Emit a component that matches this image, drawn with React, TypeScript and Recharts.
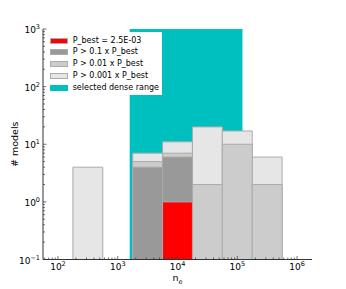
import React from "react";
import { ComposedChart, XAxis, YAxis, ReferenceArea, Label, Scatter } from "recharts";

// histogram bin edges (n_e) and counts per probability threshold
const binLo = [178, 562, 1778, 5623, 17783, 56234, 177828];
const binHi = [562, 1778, 5623, 17783, 56234, 177828, 562341];
const binMid = [316, 1000, 3162, 10000, 31623, 100000, 316228];
const countP001 = [4, 0, 7, 11, 20, 17, 6];
const countP01 = [0, 0, 5, 7, 2, 10, 2];
const countP1 = [0, 0, 4, 6, 0, 0, 0];
const countBest = [0, 0, 0, 1, 0, 0, 0];

// selected dense range
const denseLo = 1585;
const denseHi = 122000;

const xMajor = [100, 1000, 10000, 100000, 1000000];
const yMajor = [0.1, 1, 10, 100, 1000];
const xDomain = [56.2, 1778279];
const yDomain = [0.1, 1000];

const legendItems = [
  { label: "P_best = 2.5E-03", color: "#ff0000" },
  { label: "P > 0.1 x P_best", color: "#999999" },
  { label: "P > 0.01 x P_best", color: "#cccccc" },
  { label: "P > 0.001 x P_best", color: "#e6e6e6" },
  { label: "selected dense range", color: "#00bfbf" },
];

const FONT = "DejaVu Sans, sans-serif";
const EDGE = "#ababab";

// anchor points so every axis has a series attached
const anchors = binMid.map((x, i) => ({ x, y: Math.max(countP001[i], 0.2) }));

function withMinors(lo: number, hi: number) {
  const out: number[] = [];
  for (let e = -2; e <= 7; e++) {
    for (let m = 1; m <= 9; m++) {
      const v = m * Math.pow(10, e);
      if (v >= lo * 0.9999 && v <= hi * 1.0001) out.push(v);
    }
  }
  return out;
}

const xTicks = withMinors(xDomain[0], xDomain[1]);
const yTicks = withMinors(yDomain[0], yDomain[1]);

const isMajor = (v: number, majors: number[]) =>
  majors.some((m) => Math.abs(v - m) < m * 1e-6);

const Pow = ({ v }: { v: number }) => {
  const e = Math.round(Math.log10(v));
  return (
    <>
      10
      <tspan dy={-4} fontSize={6.5}>
        {e < 0 ? "\u2212" + Math.abs(e) : e}
      </tspan>
    </>
  );
};

const BottomTick = (props: any) => {
  const { x, y, payload } = props;
  const major = isMajor(payload.value, xMajor);
  return (
    <g>
      <line x1={x} x2={x} y1={y} y2={y - (major ? 3.5 : 2)} stroke="#333" strokeWidth={0.7} />
      {major && (
        <text x={x} y={y + 10.5} textAnchor="middle" fontSize={9} fontFamily={FONT} fill="#000">
          <Pow v={payload.value} />
        </text>
      )}
    </g>
  );
};

const TopTick = (props: any) => {
  const { x, y, payload } = props;
  const major = isMajor(payload.value, xMajor);
  return <line x1={x} x2={x} y1={y} y2={y + (major ? 3.5 : 2)} stroke="#333" strokeWidth={0.7} />;
};

const LeftTick = (props: any) => {
  const { x, y, payload } = props;
  const major = isMajor(payload.value, yMajor);
  return (
    <g>
      <line x1={x} x2={x + (major ? 3.5 : 2)} y1={y} y2={y} stroke="#333" strokeWidth={0.7} />
      {major && (
        <text x={x - 3} y={y + 4} textAnchor="end" fontSize={9} fontFamily={FONT} fill="#000">
          <Pow v={payload.value} />
        </text>
      )}
    </g>
  );
};

const RightTick = (props: any) => {
  const { x, y, payload } = props;
  const major = isMajor(payload.value, yMajor);
  return <line x1={x} x2={x - (major ? 3.5 : 2)} y1={y} y2={y} stroke="#333" strokeWidth={0.7} />;
};

const NoDot = () => <g />;

function bars(counts: number[], color: string, prefix: string) {
  return counts.map((c, i) =>
    c > 0 ? (
      <ReferenceArea
        key={`${prefix}-${i}`}
        xAxisId="bottom"
        yAxisId="left"
        x1={binLo[i]}
        x2={binHi[i]}
        y1={yDomain[0]}
        y2={c}
        fill={color}
        fillOpacity={1}
        stroke={EDGE}
        strokeWidth={1}
        ifOverflow="visible"
      />
    ) : null
  );
}

export default function App() {
  return (
    <div style={{ position: "absolute", left: 0, top: 0, width: 346, height: 289 }}>
      <ComposedChart width={346} height={289} margin={{ top: 29, right: 34, bottom: 0, left: 10 }}>
        <XAxis
          xAxisId="bottom"
          dataKey="x"
          type="number"
          scale="log"
          domain={xDomain}
          allowDataOverflow
          ticks={xTicks}
          interval={0}
          tickSize={0}
          tickMargin={0}
          height={29.5}
          tick={<BottomTick />}
          axisLine={{ stroke: "#333", strokeWidth: 1 }}
          tickLine={false}
        >
          <Label
            content={(p: any) => (
              <text
                x={p.viewBox.x + p.viewBox.width / 2}
                y={p.viewBox.y + 21.5}
                textAnchor="middle"
                fontSize={9.5}
                fontFamily={FONT}
              >
                n
                <tspan dy={2.5} fontSize={6.5}>
                  e
                </tspan>
              </text>
            )}
          />
        </XAxis>
        <XAxis
          xAxisId="top"
          dataKey="x"
          orientation="top"
          type="number"
          scale="log"
          domain={xDomain}
          allowDataOverflow
          ticks={xTicks}
          interval={0}
          tickSize={0}
          tickMargin={0}
          height={0}
          tick={<TopTick />}
          axisLine={{ stroke: "#333", strokeWidth: 1 }}
          tickLine={false}
        />
        <YAxis
          yAxisId="left"
          dataKey="y"
          type="number"
          scale="log"
          domain={yDomain}
          allowDataOverflow
          ticks={yTicks}
          interval={0}
          tickSize={0}
          tickMargin={0}
          width={33}
          tick={<LeftTick />}
          axisLine={{ stroke: "#333", strokeWidth: 1 }}
          tickLine={false}
        >
          <Label
            content={(p: any) => {
              const cx = p.viewBox.x + 4.5;
              const cy = p.viewBox.y + p.viewBox.height / 2;
              return (
                <text
                  x={cx}
                  y={cy}
                  transform={`rotate(-90 ${cx} ${cy})`}
                  textAnchor="middle"
                  dominantBaseline="central"
                  fontSize={9.5}
                  fontFamily={FONT}
                >
                  # models
                </text>
              );
            }}
          />
        </YAxis>
        <YAxis
          yAxisId="right"
          dataKey="y"
          orientation="right"
          type="number"
          scale="log"
          domain={yDomain}
          allowDataOverflow
          ticks={yTicks}
          interval={0}
          tickSize={0}
          tickMargin={0}
          width={0}
          tick={<RightTick />}
          axisLine={{ stroke: "#333", strokeWidth: 1 }}
          tickLine={false}
        />
        <Scatter data={anchors} xAxisId="bottom" yAxisId="left" shape={<NoDot />} isAnimationActive={false} />
        <Scatter data={anchors} xAxisId="top" yAxisId="right" shape={<NoDot />} isAnimationActive={false} />
        <ReferenceArea
          xAxisId="bottom"
          yAxisId="left"
          x1={denseLo}
          x2={denseHi}
          y1={yDomain[0]}
          y2={yDomain[1]}
          fill="#00bfbf"
          fillOpacity={1}
          stroke="none"
          ifOverflow="visible"
        />
        {bars(countP001, "#e6e6e6", "p001")}
        {bars(countP01, "#cccccc", "p01")}
        {bars(countP1, "#999999", "p1")}
        {bars(countBest, "#ff0000", "best")}
      </ComposedChart>
      <div
        style={{
          position: "absolute",
          left: 46,
          top: 32,
          width: 116,
          height: 63,
          background: "#fff",
          fontFamily: FONT,
          fontSize: 8,
          color: "#000",
        }}
      >
        {legendItems.map((it, i) => (
          <div
            key={it.label}
            style={{ position: "absolute", left: 4, top: 4.5 + i * 11.9, height: 8, display: "flex", alignItems: "center", whiteSpace: "nowrap" }}
          >
            <span
              style={{
                display: "inline-block",
                width: 18,
                height: 6,
                background: it.color,
                border: i < 4 ? `0.5px solid ${EDGE}` : "none",
                boxSizing: "border-box",
                marginRight: 4.7,
              }}
            />
            <span style={{ lineHeight: "8px" }}>{it.label}</span>
          </div>
        ))}
      </div>
    </div>
  );
}
